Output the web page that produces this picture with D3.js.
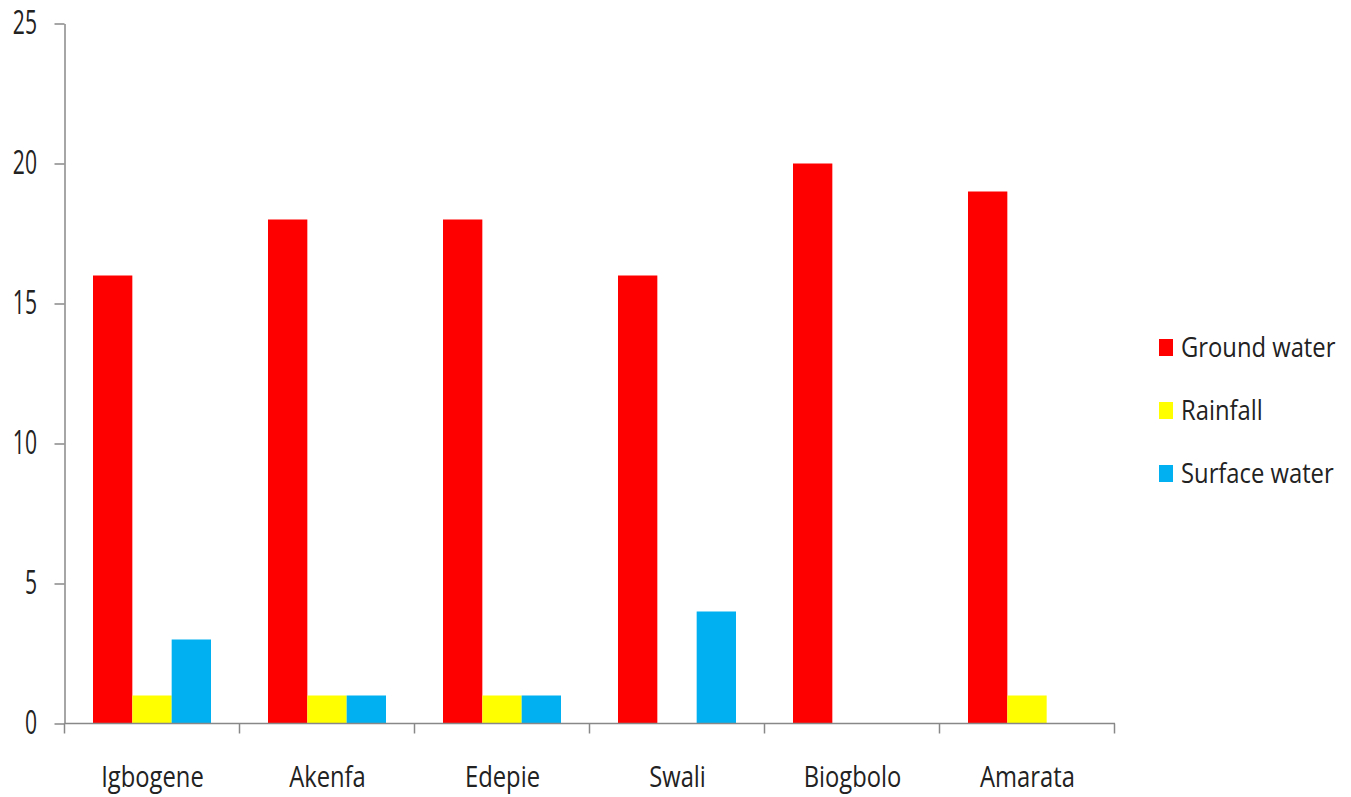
<!DOCTYPE html>
<html>
<head>
<meta charset="utf-8">
<script src="https://cdn.jsdelivr.net/npm/d3@7"></script>
<style>
  html, body { margin: 0; padding: 0; background: #fff; }
  svg { display: block; }
  text { font-family: "Open Sans", "Noto Sans", sans-serif; fill: #222; }
</style>
</head>
<body>
<svg id="chart" width="1351" height="797"></svg>
<script>
// Water source counts per community
const categories = ["Igbogene", "Akenfa", "Edepie", "Swali", "Biogbolo", "Amarata"];
const seriesNames = ["Ground water", "Rainfall", "Surface water"];
const groundWater = [16, 18, 18, 16, 20, 19];
const rainfall = [1, 1, 1, 0, 0, 1];
const surfaceWater = [3, 1, 1, 4, 0, 0];
const yTicks = [0, 5, 10, 15, 20, 25];
const colors = ["#ff0000", "#ffff00", "#00b0f0"];

const seriesValues = [groundWater, rainfall, surfaceWater];
const rows = categories.map((c, i) => ({
  category: c,
  values: seriesNames.map((s, j) => ({ series: s, value: seriesValues[j][i] }))
}));

const svg = d3.select("#chart");
const margin = { left: 65, right: 236, top: 23, bottom: 73 };
const W = 1351, H = 797;

const x0 = d3.scaleBand().domain(categories).range([margin.left, W - margin.right]).padding(0);
const x1 = d3.scaleBand().domain(seriesNames)
  .range([28, x0.bandwidth() - 29]).padding(0);
const y = d3.scaleLinear().domain([0, 25]).range([H - margin.bottom - 0.5, margin.top + 0.5]);

// Bars
const groups = svg.append("g").selectAll("g").data(rows).join("g")
  .attr("transform", d => `translate(${x0(d.category)},0)`);
groups.selectAll("rect").data(d => d.values.filter(v => v.value > 0)).join("rect")
  .attr("x", d => x1(d.series))
  .attr("width", x1.bandwidth())
  .attr("y", d => y(d.value))
  .attr("height", d => y(0) - y(d.value))
  .attr("fill", d => colors[seriesNames.indexOf(d.series)]);

// Condensed text: tall glyphs squeezed horizontally
const ySX = 0.66, xSX = 0.82, lSX = 0.85;

// Y axis
const yAxis = svg.append("g")
  .attr("transform", `translate(${margin.left - 0.5},0)`)
  .call(d3.axisLeft(y).tickValues(yTicks).tickSize(10).tickSizeOuter(0));
yAxis.selectAll("text")
  .style("font-size", "32px")
  .attr("fill", "#222")
  .attr("x", -27.5 / ySX)
  .attr("transform", `scale(${ySX},1)`);

// X axis with ticks at band boundaries
const xAxis = svg.append("g").attr("transform", `translate(0,${y(0)})`);
xAxis.append("line")
  .attr("x1", margin.left - 0.5).attr("x2", W - margin.right)
  .attr("stroke", "#888").attr("stroke-width", 1.5);
const bounds = categories.map(c => x0(c)).concat([x0(categories[categories.length - 1]) + x0.bandwidth()]);
xAxis.selectAll("line.tk").data(bounds).join("line").attr("class", "tk")
  .attr("x1", d => d - 0.5).attr("x2", d => d - 0.5)
  .attr("y1", 0).attr("y2", 10)
  .attr("stroke", "#888").attr("stroke-width", 1.5);
xAxis.selectAll("text").data(categories).join("text")
  .attr("transform", d => `translate(${x0(d) + x0.bandwidth() / 2},63) scale(${xSX},1)`)
  .attr("text-anchor", "middle")
  .style("font-size", "29px")
  .text(d => d);

svg.selectAll(".domain, .tick line").attr("stroke", "#888").attr("stroke-width", 1.5);

// Legend
const legend = svg.append("g").attr("transform", "translate(1159,357)");
const li = legend.selectAll("g").data(seriesNames).join("g")
  .attr("transform", (d, i) => `translate(0,${i * 63})`);
li.append("rect").attr("x", 0).attr("y", -18).attr("width", 14).attr("height", 17)
  .attr("fill", (d, i) => colors[i]);
li.append("text")
  .attr("transform", `translate(22,0) scale(${lSX},1)`)
  .style("font-size", "28px")
  .text(d => d);
</script>
</body>
</html>
